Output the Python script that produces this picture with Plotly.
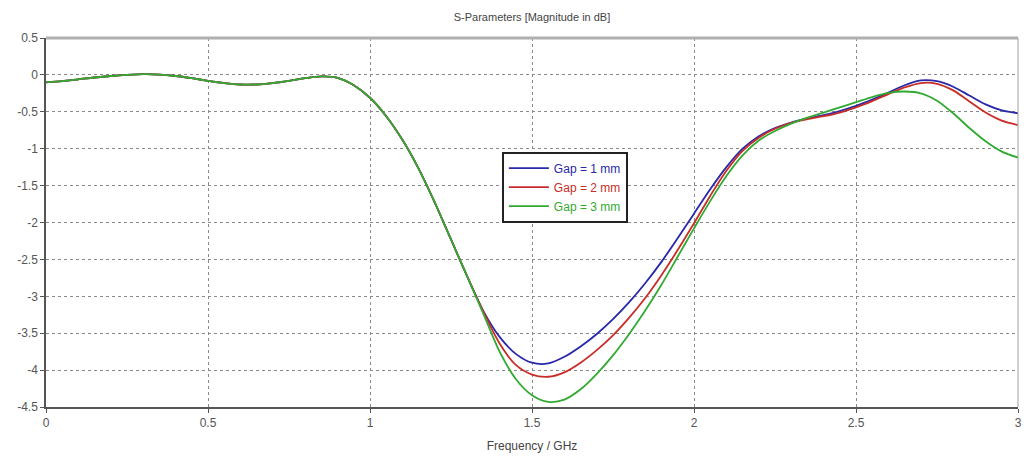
import plotly.graph_objects as go

# Frequency points in GHz
freq = [0.00, 0.05, 0.10, 0.15, 0.20, 0.25, 0.30, 0.35, 0.40, 0.45,
        0.50, 0.55, 0.60, 0.65, 0.70, 0.75, 0.80, 0.85, 0.90, 0.95,
        1.00, 1.05, 1.10, 1.15, 1.20, 1.25, 1.30, 1.35, 1.40, 1.45,
        1.50, 1.55, 1.60, 1.65, 1.70, 1.75, 1.80, 1.85, 1.90, 1.95,
        2.00, 2.05, 2.10, 2.15, 2.20, 2.25, 2.30, 2.35, 2.40, 2.45,
        2.50, 2.55, 2.60, 2.65, 2.70, 2.75, 2.80, 2.85, 2.90, 2.95, 3.00]

# Shared low-frequency response (identical for all gaps up to ~1.3 GHz)
common = [-0.10, -0.085, -0.06, -0.035, -0.015, 0.0, 0.01, 0.005, -0.015, -0.045,
          -0.08, -0.11, -0.13, -0.13, -0.11, -0.08, -0.045, -0.02, -0.04, -0.14,
          -0.31, -0.56, -0.88, -1.27, -1.73, -2.23, -2.73]

gap1_tail = [-3.20, -3.55, -3.78,
             -3.90, -3.91, -3.82, -3.68, -3.51, -3.31, -3.08, -2.82, -2.53, -2.21,
             -1.88, -1.55, -1.25, -1.00, -0.83, -0.72, -0.645, -0.59, -0.545, -0.49,
             -0.42, -0.335, -0.24, -0.14, -0.075, -0.085, -0.16, -0.28, -0.40, -0.48, -0.52]
gap2_tail = [-3.21, -3.64, -3.93,
             -4.06, -4.09, -4.03, -3.90, -3.73, -3.53, -3.29, -3.02, -2.71, -2.37,
             -2.01, -1.64, -1.30, -1.03, -0.85, -0.73, -0.65, -0.60, -0.56, -0.51,
             -0.44, -0.355, -0.26, -0.17, -0.11, -0.12, -0.21, -0.36, -0.51, -0.62, -0.68]
gap3_tail = [-3.24, -3.75, -4.12,
             -4.34, -4.43, -4.40, -4.26, -4.05, -3.80, -3.51, -3.19, -2.84, -2.46,
             -2.08, -1.71, -1.37, -1.09, -0.89, -0.76, -0.66, -0.58, -0.51, -0.44,
             -0.37, -0.30, -0.245, -0.225, -0.25, -0.35, -0.52, -0.72, -0.90, -1.04, -1.12]

s_gap1 = common + gap1_tail
s_gap2 = common + gap2_tail
s_gap3 = common + gap3_tail

series_names = ["Gap = 1 mm", "Gap = 2 mm", "Gap = 3 mm"]
series_colors = ["rgb(40,40,170)", "rgb(200,45,40)", "rgb(50,170,50)"]

x_ticks = [0, 0.5, 1, 1.5, 2, 2.5, 3]
x_labels = ["0", "0.5", "1", "1.5", "2", "2.5", "3"]
y_ticks = [0.5, 0, -0.5, -1, -1.5, -2, -2.5, -3, -3.5, -4, -4.5]
y_labels = ["0.5", "0", "-0.5", "-1", "-1.5", "-2", "-2.5", "-3", "-3.5", "-4", "-4.5"]

fig = go.Figure()
for name, color, ys in zip(series_names, series_colors, [s_gap1, s_gap2, s_gap3]):
    fig.add_trace(go.Scatter(
        x=freq, y=ys, mode="lines",
        line=dict(color=color, width=1.8, shape="spline", smoothing=0.8),
        name=f"<span style='color:{color}'>{name}</span>",
    ))

font_family = "Liberation Sans"
tick_font = dict(family=font_family, size=12, color="#555555")

fig.update_layout(
    width=1024, height=465,
    margin=dict(l=46, r=6, t=38, b=58, autoexpand=False),
    paper_bgcolor="white", plot_bgcolor="white",
    title=dict(text="S-Parameters [Magnitude in dB]", x=(46 + 1018) / 2 / 1024,
               xanchor="center", y=1 - 17 / 465, yanchor="middle",
               font=dict(family=font_family, size=11, color="#444444")),
    showlegend=True,
    legend=dict(x=0.469, y=0.692, xanchor="left", yanchor="top",
                bgcolor="white", bordercolor="#222222", borderwidth=2,
                font=dict(family=font_family, size=12),
                itemwidth=40, tracegroupgap=0),
    xaxis=dict(range=[0, 3], tickvals=x_ticks, ticktext=x_labels,
               automargin=False,
               showgrid=True, gridcolor="#8a8a8a", griddash="dot", gridwidth=1,
               showline=True, linecolor="#555555", linewidth=1.5,
               ticks="outside", ticklen=4, tickcolor="#555555",
               tickfont=tick_font, zeroline=False,
               title=dict(text="Frequency / GHz", standoff=12,
                          font=dict(family=font_family, size=12, color="#444444"))),
    yaxis=dict(range=[-4.5, 0.5], tickvals=y_ticks, ticktext=y_labels,
               automargin=False,
               showgrid=True, gridcolor="#8a8a8a", griddash="dot", gridwidth=1,
               showline=True, linecolor="#555555", linewidth=1.5,
               ticks="outside", ticklen=4, tickcolor="#555555",
               tickfont=tick_font, zeroline=False),
)

# Frame: heavy grey top edge and thin grey right edge
fig.add_shape(type="line", xref="paper", yref="paper", x0=0, x1=1, y0=1, y1=1,
              line=dict(color="#b0b0b0", width=3))
fig.add_shape(type="line", xref="paper", yref="paper", x0=1, x1=1, y0=0, y1=1,
              line=dict(color="#a0a0a0", width=1))

fig.write_html("out.html")
